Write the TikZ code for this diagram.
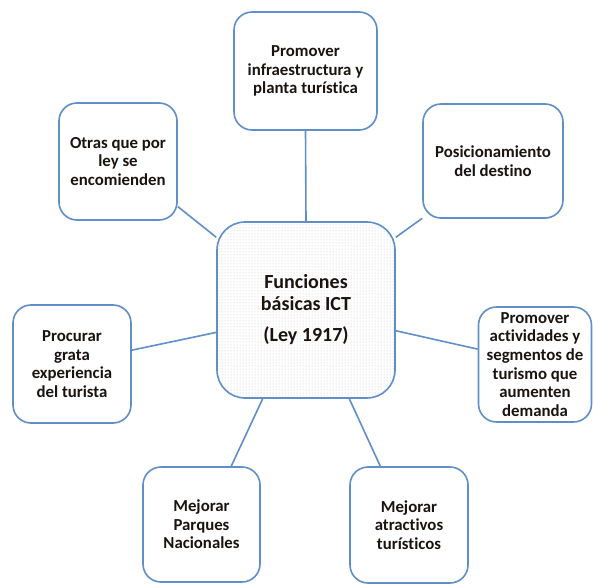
\documentclass[tikz,border=0pt]{standalone}
\usepackage{fontspec}
\setmainfont[Ligatures=NoCommon]{Carlito}
\usetikzlibrary{patterns}
\definecolor{edge}{RGB}{95,142,200}
\definecolor{txt}{RGB}{25,20,15}
\begin{document}
\begin{tikzpicture}[x=1pt,y=-1pt,
  box/.style={draw=edge, line width=1.6pt, rounded corners=18pt, fill=white,
    align=center, text=txt, inner sep=0pt,
    font=\fontsize{16.8}{18.6}\selectfont\bfseries},
  hub/.style={draw=edge, line width=1.6pt, rounded corners=28pt,
    preaction={fill=white}, pattern=dots, pattern color=gray!45,
    align=center, text=txt, inner sep=0pt,
    font=\fontsize{20}{22}\selectfont\bfseries,
    minimum width=178pt, minimum height=176pt},
  conn/.style={draw=edge, line width=1.6pt}]
\useasboundingbox (0,0) rectangle (593,585);

\node[hub] (c) at (306,310) {Funciones\\básicas ICT\\[9pt](Ley 1917)};

\node[box, minimum width=143pt, minimum height=118pt] (top) at (305.5,71)
  {Promover\\infraestructura y\\planta turística};
\node[box, minimum width=118pt, minimum height=117pt] (tl) at (118,161.5)
  {Otras que por\\ley se\\encomienden};
\node[box, minimum width=140pt, minimum height=114pt] (tr) at (493,161)
  {Posicionamiento\\del destino};
\node[box, minimum width=118pt, minimum height=118pt] (l) at (72,364)
  {Procurar\\grata\\experiencia\\del turista};
\node[box, minimum width=113pt, minimum height=115pt] (r) at (535,364.5)
  {Promover\\actividades y\\segmentos de\\turismo que\\aumenten\\demanda};
\node[box, minimum width=117pt, minimum height=115pt] (bl) at (201.5,524.5)
  {Mejorar\\Parques\\Nacionales};
\node[box, minimum width=118pt, minimum height=116pt] (br) at (409,525)
  {Mejorar\\atractivos\\turísticos};

\draw[conn] (top.south) -- (c.north);
\draw[conn] (tl.-37.6) -- (c.141);
\draw[conn] (tr.-141.3) -- (c.39.1);
\draw[conn] (l.13.3) -- (c.-166.7);
\draw[conn] (r.165.7) -- (c.-13.3);
\draw[conn] (bl.63.6) -- (c.-116);
\draw[conn] (br.116.6) -- (c.-64.5);
\end{tikzpicture}
\end{document}
